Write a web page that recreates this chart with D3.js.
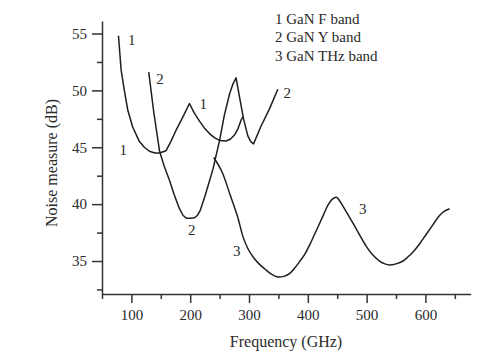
<!DOCTYPE html>
<html><head><meta charset="utf-8">
<script src="https://cdn.jsdelivr.net/npm/d3@7"></script>
<style>
html,body{margin:0;padding:0;background:#fff;}
svg{display:block;}
text{font-family:"Liberation Serif","Times New Roman",serif;fill:#2a2a2a;}
</style></head>
<body>
<svg id="chart" width="502" height="358"></svg>
<script>
// ---- data ----
const f1Freq = [78, 82.5, 88, 93.7, 102, 113.6, 122, 130.6, 140, 147.7, 159, 167, 176, 187, 198.7, 207, 215.8, 224, 232.8, 241, 249.8, 261, 268, 275, 281, 286.7, 290];
const f1Noise = [54.8, 51.8, 50.0, 48.3, 46.8, 45.5, 45.0, 44.65, 44.5, 44.5, 44.7, 45.5, 46.5, 47.6, 48.85, 48.0, 47.3, 46.7, 46.2, 45.85, 45.6, 45.55, 45.7, 46.05, 46.6, 47.4, 47.7];

const f2Freq = [129.5, 138, 147.7, 156, 164.7, 173, 181.7, 188, 194, 201, 207, 212, 216.7, 225, 232, 238.8, 250, 258, 267, 273, 278, 285, 290.7, 298, 303, 307.7, 320, 335, 349];
const f2Noise = [51.6, 48.1, 44.7, 43.3, 42.1, 40.8, 39.6, 39.0, 38.75, 38.75, 38.8, 39.0, 39.4, 40.7, 41.9, 43.1, 45.6, 47.8, 49.7, 50.6, 51.1, 49.1, 47.5, 46.0, 45.5, 45.3, 46.8, 48.4, 50.1];

const f3Freq = [240, 254, 268, 280, 290, 298, 307, 317, 327, 338, 349, 359, 369, 378, 386, 395, 403, 412, 420, 427, 434, 441, 448.5, 454, 460, 468, 477, 488, 500, 511, 522, 531, 539, 550, 562, 570, 579, 590, 602, 613, 624, 633, 641];
const f3Noise = [44.1, 42.85, 40.8, 39.0, 37.1, 36.1, 35.35, 34.75, 34.3, 33.85, 33.6, 33.65, 33.9, 34.4, 34.95, 35.6, 36.4, 37.4, 38.3, 39.1, 39.9, 40.4, 40.6, 40.3, 39.8, 39.1, 38.3, 37.3, 36.25, 35.5, 35.0, 34.75, 34.65, 34.75, 35.0, 35.35, 35.8, 36.5, 37.4, 38.2, 39.0, 39.4, 39.6];

const xMajorTicks = [100, 200, 300, 400, 500, 600];
const xMinorTicks = [50, 150, 250, 350, 450, 550, 650];
const yMajorTicks = [35, 40, 45, 50, 55];
const yMinorTicks = [32.5, 37.5, 42.5, 47.5, 52.5];

const legendLines = ["1 GaN F band", "2 GaN Y band", "3 GaN THz band"];
const curveLabelText = ["1", "2", "1", "1", "2", "2", "3", "3"];
const curveLabelFreq = [100.5, 148.6, 222.3, 86.2, 365.1, 202.6, 279.1, 493.4];
const curveLabelNoise = [54.43, 51.06, 48.86, 44.76, 49.83, 37.73, 35.91, 39.63];

// ---- chart ----
const svg = d3.select("#chart");
const x = d3.scaleLinear().domain([50, 677]).range([102, 470.7]);
const y = d3.scaleLinear().domain([32.1, 56.1]).range([294, 21]);
const axisColor = "#333";

// x axis
const gx = svg.append("g").attr("transform", `translate(0,${y(32.1)})`);
gx.call(d3.axisBottom(x).tickValues(xMajorTicks).tickSize(9).tickSizeOuter(0).tickPadding(6).tickFormat(d3.format("d")));
gx.append("g").call(d3.axisBottom(x).tickValues(xMinorTicks).tickSize(5).tickSizeOuter(0).tickFormat(""))
  .select(".domain").remove();
// y axis
const gy = svg.append("g").attr("transform", `translate(${x(50)},0)`);
gy.call(d3.axisLeft(y).tickValues(yMajorTicks).tickSize(10).tickSizeOuter(0).tickPadding(5).tickFormat(d3.format("d")));
gy.append("g").call(d3.axisLeft(y).tickValues(yMinorTicks).tickSize(5).tickSizeOuter(0).tickFormat(""))
  .select(".domain").remove();

svg.selectAll(".domain").attr("stroke", axisColor).attr("stroke-width", 1.5);
svg.selectAll(".tick line").attr("stroke", axisColor).attr("stroke-width", 1.5);
svg.selectAll(".tick text").attr("font-size", 15).attr("font-family", "Liberation Serif").attr("fill", "#2a2a2a");

// axis titles
svg.append("text").attr("x", 286).attr("y", 347).attr("text-anchor", "middle")
  .attr("font-size", 16).text("Frequency (GHz)");
svg.append("text").attr("transform", "translate(57,163) rotate(-90)").attr("text-anchor", "middle")
  .attr("font-size", 16).text("Noise measure (dB)");

// curves
const series = [
  {fx: f1Freq, fy: f1Noise, curve: d3.curveLinear},
  {fx: f2Freq, fy: f2Noise, curve: d3.curveLinear},
  {fx: f3Freq, fy: f3Noise, curve: d3.curveCatmullRom.alpha(0.5)}
];
series.forEach(s => {
  const pts = s.fx.map((f, i) => [f, s.fy[i]]);
  svg.append("path").datum(pts)
    .attr("fill", "none").attr("stroke", "#1e1e1e").attr("stroke-width", 1.5)
    .attr("stroke-linejoin", "round")
    .attr("d", d3.line().x(d => x(d[0])).y(d => y(d[1])).curve(s.curve));
});

// curve labels
svg.selectAll(".clabel").data(curveLabelText).enter().append("text")
  .attr("x", (d, i) => x(curveLabelFreq[i])).attr("y", (d, i) => y(curveLabelNoise[i]))
  .attr("dy", "0.35em").attr("text-anchor", "middle").attr("font-size", 15).text(d => d);

// legend
svg.selectAll(".leg").data(legendLines).enter().append("text")
  .attr("x", 275).attr("y", (d, i) => 23.5 + i * 18.5)
  .attr("font-size", 15).text(d => d);
</script>
</body></html>
